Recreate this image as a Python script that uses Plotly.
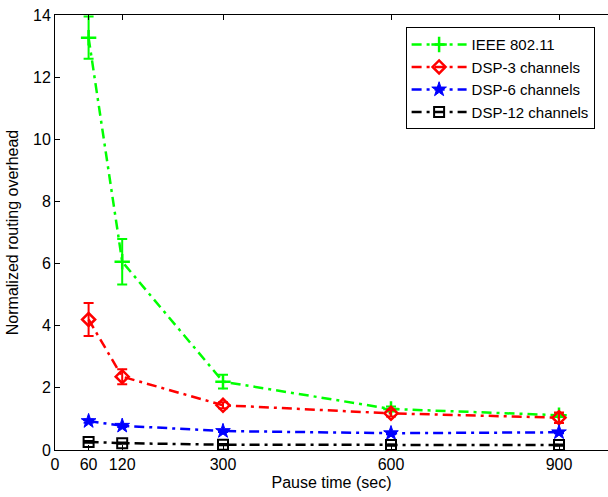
import plotly.graph_objects as go

# Pause times (sec) and normalized routing overhead per scheme
pause_time = [60, 120, 300, 600, 900]

ieee_80211 = [13.27, 6.06, 2.2, 1.32, 1.12]
ieee_80211_err = [0.68, 0.73, 0.22, 0.08, 0.06]

dsp_3ch = [4.2, 2.36, 1.44, 1.18, 1.04]
dsp_3ch_err = [0.53, 0.24, 0.1, 0.1, 0.17]

dsp_6ch = [0.93, 0.78, 0.61, 0.54, 0.57]
dsp_6ch_err = [0.05, 0.04, 0.03, 0.03, 0.03]

dsp_12ch = [0.26, 0.22, 0.17, 0.16, 0.16]
dsp_12ch_err = [0.03, 0.02, 0.02, 0.02, 0.02]

x_ticks = [0, 60, 120, 300, 600, 900]
y_ticks = [0, 2, 4, 6, 8, 10, 12, 14]

FONT = "Liberation Sans, Arial, sans-serif"
DASH = "10px,5px,3px,5px"

series = [
    ("IEEE 802.11", ieee_80211, ieee_80211_err, "#00ff00",
     dict(symbol="cross-thin-open", size=11, line=dict(width=2.5, color="#00ff00"))),
    ("DSP-3 channels", dsp_3ch, dsp_3ch_err, "#ff0000",
     dict(symbol="diamond-open", size=10, line=dict(width=2.5, color="#ff0000"))),
    ("DSP-6 channels", dsp_6ch, dsp_6ch_err, "#0000ff",
     dict(symbol="star", size=11, color="#0000ff", line=dict(width=1, color="#0000ff"))),
    ("DSP-12 channels", dsp_12ch, dsp_12ch_err, "#000000",
     dict(symbol="square-open", size=10, line=dict(width=2, color="#000000"))),
]

fig = go.Figure()
for name, vals, errs, color, marker in series:
    fig.add_trace(go.Scatter(
        x=pause_time, y=vals, name=name, mode="lines+markers",
        line=dict(color=color, width=2.5, dash=DASH),
        marker=marker,
        error_y=dict(type="data", array=errs, visible=True,
                     color=color, thickness=2, width=5),
        cliponaxis=True,
    ))

fig.update_layout(
    width=608, height=497,
    margin=dict(l=55, r=0, t=15, b=47),
    paper_bgcolor="white", plot_bgcolor="white",
    font=dict(family=FONT, size=16, color="#000000"),
    showlegend=True,
    legend=dict(
        x=0.634, y=0.972, xanchor="left", yanchor="top",
        bgcolor="white", bordercolor="#000000", borderwidth=1,
        font=dict(family=FONT, size=15, color="#000000"),
        itemwidth=55, tracegroupgap=0,
    ),
)

fig.update_xaxes(
    range=[0, 987.5], tickvals=x_ticks, ticktext=[str(v) for v in x_ticks],
    ticks="inside", ticklen=5, tickcolor="#000000", tickwidth=1,
    showline=True, linecolor="#000000", linewidth=1, mirror="ticks",
    showgrid=False, zeroline=False,
    tickfont=dict(family=FONT, size=16, color="#000000"),
    title=dict(text="Pause time (sec)", font=dict(family=FONT, size=16), standoff=4),
)
fig.update_yaxes(
    range=[0, 14], tickvals=y_ticks,
    ticks="inside", ticklen=5, tickcolor="#000000", tickwidth=1,
    showline=True, linecolor="#000000", linewidth=1, mirror=False,
    showgrid=False, zeroline=False,
    tickfont=dict(family=FONT, size=16, color="#000000"),
    title=dict(text="Normalized routing overhead", font=dict(family=FONT, size=16), standoff=10),
)

fig.write_html("out.html")
